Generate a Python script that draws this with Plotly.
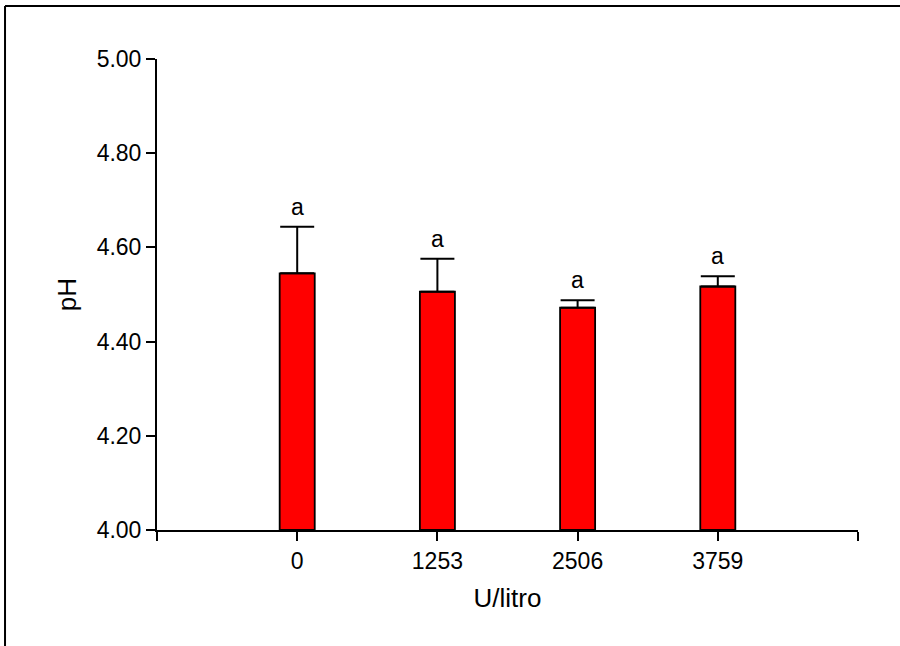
import plotly.graph_objects as go

categories = ["0", "1253", "2506", "3759"]
ph_mean = [4.545, 4.506, 4.472, 4.517]
ph_err = [0.099, 0.070, 0.016, 0.022]
letters = ["a", "a", "a", "a"]
y_ticks = [4.0, 4.2, 4.4, 4.6, 4.8, 5.0]

xpos = [i + 1 for i in range(len(categories))]

FAM = "Liberation Sans, Arial"
tick_font = dict(family=FAM, size=23, color="black")
title_font = dict(family=FAM, size=26, color="black")

fig = go.Figure()
fig.add_trace(go.Bar(
    x=xpos, y=[m - 4.0 for m in ph_mean], base=4.0,
    width=0.25,
    marker=dict(color="#ff0000", line=dict(color="black", width=1.8)),
    error_y=dict(type="data", array=ph_err, arrayminus=[0] * len(ph_err),
                 symmetric=False, color="black", thickness=2, width=17),
    showlegend=False,
))

for x, m, e, t in zip(xpos, ph_mean, ph_err, letters):
    fig.add_annotation(x=x, y=m + e, text=t, showarrow=False,
                       yanchor="bottom", yshift=5,
                       font=dict(family=FAM, size=23, color="black"))

fig.update_layout(
    width=900, height=646,
    margin=dict(l=157, r=42, t=59, b=116),
    paper_bgcolor="white", plot_bgcolor="white",
    font=tick_font,
    xaxis=dict(
        range=[0, len(categories) + 1],
        tickvals=[0] + xpos + [len(categories) + 1],
        ticktext=[""] + categories + [""],
        ticks="outside", ticklen=9, tickwidth=2, tickcolor="black",
        showline=True, linecolor="black", linewidth=2,
        showgrid=False, zeroline=False,
        title=dict(text="U/litro", font=title_font, standoff=16),
        tickfont=tick_font,
    ),
    yaxis=dict(
        range=[4.0, 5.0],
        tickvals=y_ticks,
        tickformat=".2f",
        ticks="outside", ticklen=9, tickwidth=2, tickcolor="black",
        showline=True, linecolor="black", linewidth=2,
        showgrid=False, zeroline=False,
        title=dict(text="pH", font=title_font, standoff=13),
        tickfont=tick_font,
    ),
)

# outer frame of the figure: only left and top edges are visible
frame_line = dict(color="black", width=2)
fig.add_shape(type="line", xref="paper", yref="paper",
              x0=-0.2168, x1=-0.2168, y0=-0.3, y1=1.1125, line=frame_line)
fig.add_shape(type="line", xref="paper", yref="paper",
              x0=-0.2168, x1=1.3, y0=1.1125, y1=1.1125, line=frame_line)

fig.write_html(
    "out.html",
    config={"displayModeBar": False},
    post_script="document.body.style.margin='0';document.body.style.overflow='hidden';",
)
